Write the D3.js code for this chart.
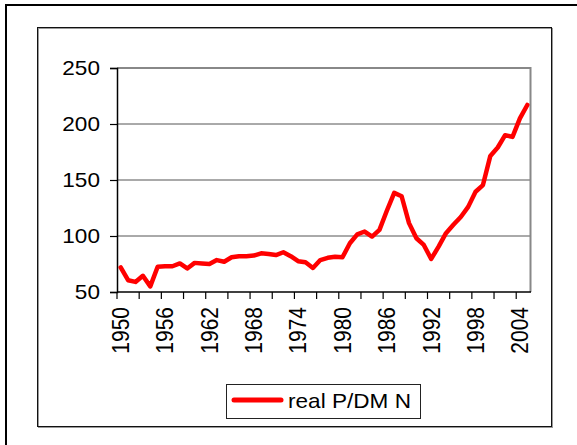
<!DOCTYPE html>
<html><head><meta charset="utf-8">
<script src="https://cdn.jsdelivr.net/npm/d3@7"></script>
<style>body{margin:0;background:#fff}svg{display:block}</style>
</head><body>
<script>
const years = d3.range(1950, 2006);
const values = [72,60.5,59,64.5,55,72.5,73,73,75.5,71,
  76,75.5,75,78.5,77,81,82,82,82.5,84.5,
  84,83,85.5,82,77.5,76.5,71.5,78.5,80.5,81.5,
  81,93.5,101.5,104,99.5,105.5,122.5,138.5,135.5,111.5,
  98,92,79.5,90.5,102.5,110,117,126,139.5,145.5,
  171.5,179,190,188.5,205,217];
const yTicks = [50,100,150,200,250];
const seriesName = "real P/DM N";

const W = 577, H = 445;
const svg = d3.select("body").append("svg").attr("width", W).attr("height", H);
const font = "'Liberation Sans', Arial, sans-serif";
const SX = 1.13; // horizontal stretch of text in the reference

// outer frame (only top/left visible)
svg.append("rect").attr("x",6).attr("y",5).attr("width",W).attr("height",H)
  .attr("fill","none").attr("stroke","#000").attr("stroke-width",2);
// chart area frame
svg.append("rect").attr("x",38.5).attr("y",28.5).attr("width",514).attr("height",399)
  .attr("fill","none").attr("stroke","#999").attr("stroke-width",1);
svg.append("rect").attr("x",37.5).attr("y",27.5).attr("width",514).attr("height",399)
  .attr("fill","none").attr("stroke","#111").attr("stroke-width",1);

const L = 117, R = 531, T = 68, B = 292;
const x = d3.scaleBand().domain(years).range([L, R]).padding(0);
const y = d3.scaleLinear().domain([50, 250]).range([B, T]);
const cx = d => x(d) + x.bandwidth()/2;

// gridlines
svg.append("g").selectAll("line").data(yTicks.filter(v => v > 50 && v < 250)).join("line")
  .attr("x1", L).attr("x2", R).attr("y1", d => y(d)).attr("y2", d => y(d))
  .attr("stroke","#555").attr("stroke-width",1);
// plot area border top/right (gray)
svg.append("path").attr("d", `M${L},${y(250)}H${R-0.5}V${B}`)
  .attr("fill","none").attr("stroke","#888").attr("stroke-width",2);

// y axis
const yAxis = d3.axisLeft(y).tickValues(yTicks).tickSize(7).tickPadding(9).tickFormat(d3.format("d"));
const gy = svg.append("g").attr("transform",`translate(${L},0)`).call(yAxis);
gy.select(".domain").attr("stroke","#000").attr("stroke-width",1.5);
gy.selectAll(".tick line").attr("stroke","#000").attr("stroke-width",1.2);
gy.selectAll("text").attr("font-family",font).attr("font-size",20).attr("fill","#000")
  .attr("x", 0).attr("transform", `translate(-17,0) scale(${SX},1)`);

// x axis: ticks at category boundaries every 3, labels at centers every 6
const gx = svg.append("g");
gx.append("line").attr("x1",L).attr("x2",R).attr("y1",B).attr("y2",B)
  .attr("stroke","#000").attr("stroke-width",1.5);
gx.selectAll("line.tk").data(years.filter(d => (d-1950)%3===0)).join("line").attr("class","tk")
  .attr("x1", d => x(d)).attr("x2", d => x(d)).attr("y1", B).attr("y2", B+7)
  .attr("stroke","#000").attr("stroke-width",1.2);
gx.selectAll("text").data(years.filter(d => (d-1950)%6===0)).join("text")
  .attr("transform", d => `translate(${cx(d)},${B+15}) scale(${SX},1) rotate(-90)`)
  .attr("text-anchor","end").attr("dy","0.35em")
  .attr("font-family",font).attr("font-size",21).attr("fill","#000")
  .text(d => d);

// series line
const line = d3.line().x((d,i) => cx(years[i])).y(d => y(d));
svg.append("path").datum(values).attr("d", line)
  .attr("fill","none").attr("stroke","#ff0000").attr("stroke-width",4.5)
  .attr("stroke-linejoin","round").attr("stroke-linecap","round");

// legend
const lg = svg.append("g");
lg.append("rect").attr("x",226.5).attr("y",384.5).attr("width",194).attr("height",34)
  .attr("fill","#fff").attr("stroke","#222").attr("stroke-width",1);
lg.append("line").attr("x1",234).attr("x2",281).attr("y1",400).attr("y2",400)
  .attr("stroke","#ff0000").attr("stroke-width",5).attr("stroke-linecap","round");
lg.append("text").attr("transform",`translate(288,408) scale(${SX},1)`)
  .attr("font-family",font).attr("font-size",20)
  .attr("fill","#000").text(seriesName);
</script>
</body></html>
